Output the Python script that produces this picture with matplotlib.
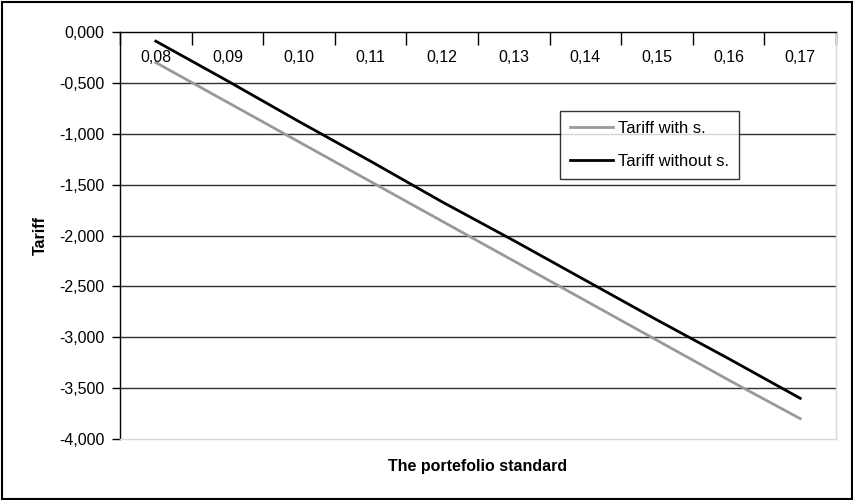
import matplotlib.pyplot as plt
from matplotlib.patches import Rectangle

# data
categories = ["0,08", "0,09", "0,10", "0,11", "0,12", "0,13", "0,14", "0,15", "0,16", "0,17"]
tariff_with = [-0.30, -0.69, -1.08, -1.47, -1.86, -2.25, -2.64, -3.03, -3.42, -3.80]
tariff_without = [-0.09, -0.48, -0.88, -1.27, -1.67, -2.05, -2.44, -2.83, -3.21, -3.60]
y_ticks = [0.0, -0.5, -1.0, -1.5, -2.0, -2.5, -3.0, -3.5, -4.0]

plt.rcParams["font.family"] = ["Liberation Sans", "DejaVu Sans"]
FS = 11.5

fig = plt.figure(figsize=(8.54, 5.0), dpi=100)
ax = fig.add_axes([120 / 854, 61 / 500, 716 / 854, 407 / 500])

x = list(range(len(categories)))
ax.plot(x, tariff_with, color="#999999", lw=2.0, label="Tariff with s.", zorder=3)
ax.plot(x, tariff_without, color="black", lw=2.0, label="Tariff without s.", zorder=3)

ax.set_xlim(-0.5, len(categories) - 0.5)
ax.set_ylim(-4.0, 0.0)

# y axis
ax.set_yticks(y_ticks)
ax.set_yticklabels([f"{v:.3f}".replace(".", ",") for v in y_ticks], fontsize=FS)
ax.tick_params(axis="y", direction="out", length=6, width=1, pad=5, colors="black")
for v in y_ticks[1:-1]:
    ax.axhline(v, color="#303030", lw=1.0, zorder=1)

# category axis sits at y = 0 (top), labels just below it
ax.xaxis.tick_top()
ax.set_xticks([i - 0.5 for i in range(len(categories) + 1)])
ax.set_xticklabels([])
ax.tick_params(axis="x", direction="in", length=9, width=1, colors="black")
for i, lbl in enumerate(categories):
    ax.annotate(lbl, xy=(i, 0), xytext=(0, -13), textcoords="offset points",
                ha="center", va="top", fontsize=FS)

ax.spines["top"].set_color("black")
ax.spines["left"].set_color("black")
ax.spines["right"].set_color("#d9d9d9")
ax.spines["bottom"].set_color("#d9d9d9")
for s in ax.spines.values():
    s.set_linewidth(1.0)

ax.set_ylabel("Tariff", fontsize=FS, fontweight="bold", labelpad=8)
fig.text(478 / 854, 1 - 466 / 500, "The portefolio standard", fontsize=FS,
         fontweight="bold", ha="center", va="center")

leg = ax.legend(loc="upper left", bbox_to_anchor=((560 - 120) / 716, (439 - 111) / 407),
                borderaxespad=0, fontsize=12, frameon=True, fancybox=False,
                handlelength=2.6, handletextpad=0.3, labelspacing=1.05,
                borderpad=0.6)
leg.get_frame().set_edgecolor("black")
leg.get_frame().set_linewidth(1.0)

# outer chart border
fig.patches.append(Rectangle((0.002, 0.003), 0.996, 0.994, transform=fig.transFigure,
                             fill=False, edgecolor="black", lw=1.5))

fig.savefig("out.png", dpi=100)
